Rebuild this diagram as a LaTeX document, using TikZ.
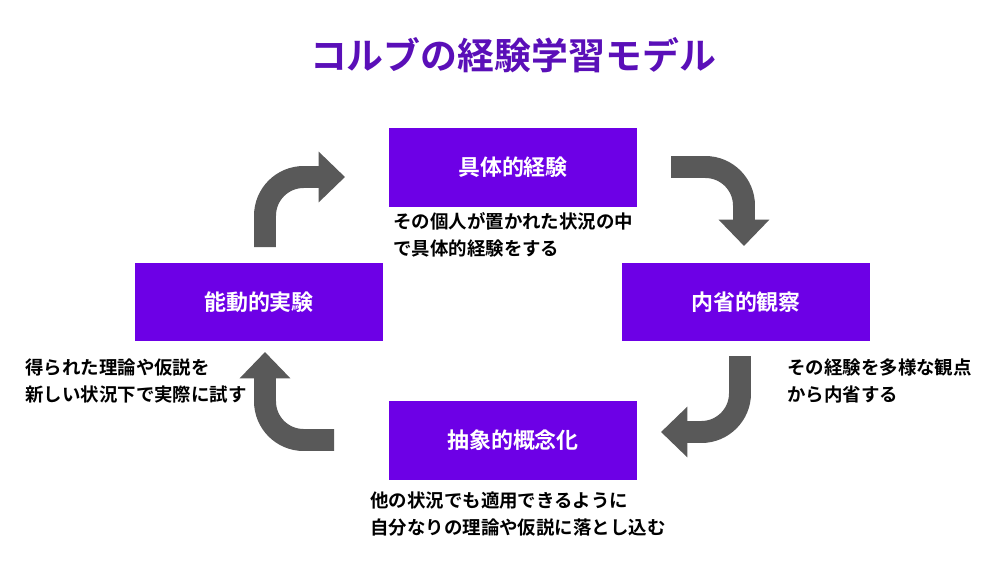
\documentclass[tikz,border=0pt]{standalone}
\usepackage{fontspec}
\setmainfont{Noto Sans CJK JP}[BoldFont={Noto Sans CJK JP Bold}]
\usetikzlibrary{arrows.meta}
\definecolor{kolbviolet}{HTML}{6D00E6}
\definecolor{titleviolet}{HTML}{5A0FB8}
\definecolor{arrowgrey}{HTML}{595959}
\begin{document}
\begin{tikzpicture}[x=0.02cm, y=-0.02cm,
    stage/.style={fill=kolbviolet, minimum width=4.96cm, minimum height=1.58cm,
      inner sep=0pt, text=white, font=\bfseries\fontsize{12.5}{14}\selectfont},
    note/.style={anchor=north west, align=left, inner sep=0pt,
      font=\bfseries\fontsize{10.5}{15.5}\selectfont},
    cycle/.style={arrowgrey, line width=12.5pt, rounded corners=22pt,
      -{Triangle[width=28pt, length=15pt]}}]

% background and bounds
\fill[white] (0,0) rectangle (989,571);

% title
\node (title) at (513,55) {\bfseries\color{titleviolet}\fontsize{21}{24}\selectfont コルブの経験学習モデル};

% stages
\node[stage] (concrete) at (513,167.5) {具体的経験};
\node[stage] (reflect) at (746,302) {内省的観察};
\node[stage] (abstract) at (513,440) {抽象的概念化};
\node[stage] (active) at (259,302) {能動的実験};

% notes
\node[note] (concretetxt) at (393,212) {その個人が置かれた状況の中\\で具体的経験をする};
\node[note] (reflecttxt) at (787,358) {その経験を多様な観点\\から内省する};
\node[note] (abstracttxt) at (370,491) {他の状況でも適用できるように\\自分なりの理論や仮説に落とし込む};
\node[note] (activetxt) at (25,358) {得られた理論や仮説を\\新しい状況下で実際に試す};

% cycle arrows
\coordinate (a1) at (265,247); \coordinate (a2) at (265,177); \coordinate (a3) at (345,177);
\coordinate (b1) at (671,167); \coordinate (b2) at (744,167); \coordinate (b3) at (744,246);
\coordinate (c1) at (740,356); \coordinate (c2) at (740,432); \coordinate (c3) at (661,432);
\coordinate (d1) at (334,440); \coordinate (d2) at (265,440); \coordinate (d3) at (265,352);
\draw[cycle] (a1) -- (a2) -- (a3);
\draw[cycle] (b1) -- (b2) -- (b3);
\draw[cycle] (c1) -- (c2) -- (c3);
\draw[cycle] (d1) -- (d2) -- (d3);

\end{tikzpicture}
\end{document}
